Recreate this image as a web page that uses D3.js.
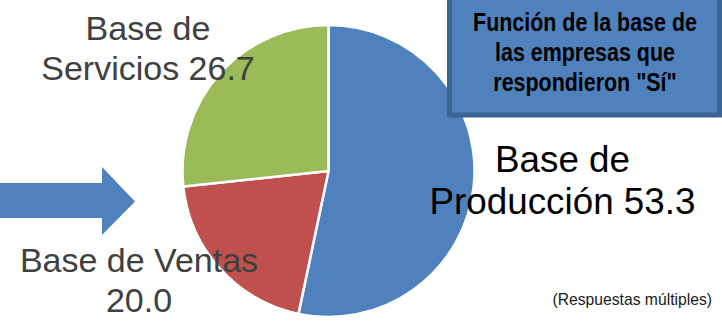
<!DOCTYPE html>
<html><head><meta charset="utf-8">
<script src="https://cdn.jsdelivr.net/npm/d3@7"></script>
<style>html,body{margin:0;padding:0;background:#fff;}svg{display:block;}</style>
</head><body>
<script>
const categories = ["Base de Producción", "Base de Ventas", "Base de Servicios"];
const values = [53.3, 20.0, 26.7];
const colors = ["#4F81BD", "#C0504D", "#9BBB59"];
const labelLines = [["Base de", "Producción 53.3"], ["Base de Ventas", "20.0"], ["Base de", "Servicios 26.7"]];
const titleLines = ["Función de la base de", "las empresas que", "respondieron \"Sí\""];
const note = "(Respuestas múltiples)";

const FONT = "'Liberation Sans', Arial, Helvetica, sans-serif";
const W = 722, H = 324;
const svg = d3.select("body").append("svg").attr("width", W).attr("height", H);

// arrow
const arrow = [[0,183],[102,183],[102,167],[135,201.5],[102,235],[102,218],[0,218]];
svg.append("path").attr("d", d3.line()(arrow)).attr("fill", "#4F81BD");

const cx = 328.5, cy = 171, R = 146;
const pie = d3.pie().sort(null).value(d => d)(values);
const arc = d3.arc().innerRadius(0).outerRadius(R);
const g = svg.append("g").attr("transform", `translate(${cx},${cy})`);
g.selectAll("path").data(pie).join("path")
  .attr("d", arc).attr("fill", (d, i) => colors[i])
  .attr("stroke", "#fff").attr("stroke-width", 2.5).attr("stroke-linejoin", "round");

// labels
const labelPos = [
  {x: 562.5, y: 172, size: 36.8, color: "#000"},
  {x: 139, y: 272, size: 34, color: "#404040"},
  {x: 148, y: 40, size: 34, color: "#404040"}
];
labelLines.forEach((lines, i) => {
  const p = labelPos[i];
  const t = svg.append("text").attr("text-anchor", "middle")
    .style("font-family", FONT)
    .attr("font-size", p.size).attr("fill", p.color);
  lines.forEach((l, j) => t.append("tspan").attr("x", p.x).attr("y", p.y + j * (i === 0 ? 42 : 40)).text(l));
});

// title box
svg.append("rect").attr("x", 449.5).attr("y", -5).attr("width", 270).attr("height", 120)
  .attr("fill", "#4F81BD").attr("stroke", "#3C6494").attr("stroke-width", 5);
const tcx = 585;
const tt = svg.append("text").attr("text-anchor", "middle")
  .style("font-family", FONT)
  .attr("font-weight", "bold").attr("font-size", 25).attr("fill", "#000");
const spans = titleLines.map((l, j) => tt.append("tspan").attr("x", tcx).attr("y", 31.5 + j * 30).text(l));
// condense like a narrow face: fit first line to its width in the reference
const len = spans[0].node().getComputedTextLength();
const s = 224 / len;
tt.attr("transform", `translate(${tcx},0) scale(${s},1) translate(${-tcx},0)`);

svg.append("text").attr("x", 712).attr("y", 305).attr("text-anchor", "end")
  .style("font-family", FONT).attr("font-size", 15.7)
  .attr("fill", "#1a1a1a").text(note);
</script>
</body></html>
